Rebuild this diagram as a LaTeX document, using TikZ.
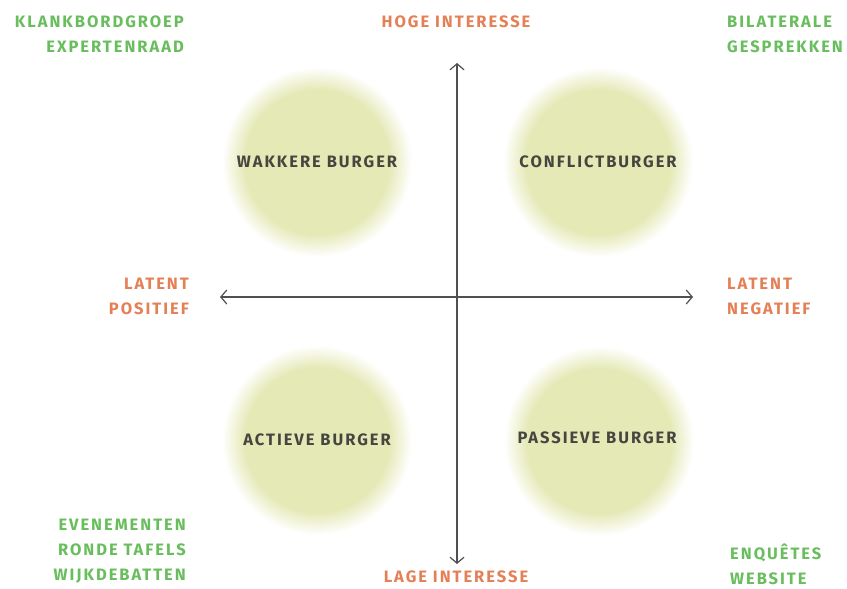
\documentclass[tikz,border=0pt]{standalone}
\usepackage{fontspec}
\setmainfont{Fira Sans}
\newfontfamily\lblfont[LetterSpace=12]{Fira Sans}
\usetikzlibrary{arrows.meta}
\definecolor{grn}{RGB}{104,190,92}
\definecolor{org}{RGB}{228,128,86}
\definecolor{dark}{RGB}{70,70,64}
\definecolor{axis}{RGB}{80,80,80}
\definecolor{blobc}{RGB}{229,233,182}
\pgfdeclareradialshading{blobshade}{\pgfpoint{0bp}{0bp}}{color(0bp)=(blobc); color(19bp)=(blobc); color(25bp)=(white); color(50bp)=(white)}
\tikzset{
  lbl/.style={font=\lblfont\bfseries\fontsize{16.5}{20}\selectfont, inner sep=0pt},
  grnlbl/.style={lbl, text=grn},
  orglbl/.style={lbl, text=org},
  quad/.style={lbl, text=dark},
  blob/.style={circle, minimum size=190pt, inner sep=0pt, shading=blobshade},
  axisline/.style={draw=axis, line width=1.2pt, {Straight Barb[length=6pt,width=14pt,line width=1.2pt]}-{Straight Barb[length=6pt,width=14pt,line width=1.2pt]}}
}
\begin{document}
\begin{tikzpicture}[x=1pt,y=-1pt]
\useasboundingbox (0,0) rectangle (847,589);
\fill[white] (0,0) rectangle (847,589);
% blobs
\node[blob] (b1) at (317,162) {};
\node[blob] (b2) at (598,162) {};
\node[blob] (b3) at (317,440) {};
\node[blob] (b4) at (599,441) {};
\node[quad] (q1) at (317,162) {WAKKERE BURGER};
\node[quad] (q2) at (598,162) {CONFLICTBURGER};
\node[quad] (q3) at (317,440) {ACTIEVE BURGER};
\node[quad] (q4) at (597,438) {PASSIEVE BURGER};
% axes
\coordinate (top) at (457,63);
\coordinate (bot) at (457,564);
\coordinate (lft) at (220,297);
\coordinate (rgt) at (693,297);
\draw[axisline] (bot) -- (top);
\draw[axisline] (lft) -- (rgt);
% axis labels
\node[orglbl] (hoge) at (456,22) {HOGE INTERESSE};
\node[orglbl] (lage) at (456,577) {LAGE INTERESSE};
\node[orglbl, anchor=east, align=right] (pos) at (189,296) {LATENT\\[5pt]POSITIEF};
\node[orglbl, anchor=west, align=left] (neg) at (727,296) {LATENT\\[5pt]NEGATIEF};
% corner labels
\node[grnlbl, anchor=east, align=right] (tl) at (184,34) {KLANKBORDGROEP\\[5pt]EXPERTENRAAD};
\node[grnlbl, anchor=west, align=left] (tr) at (727,34) {BILATERALE\\[5pt]GESPREKKEN};
\node[grnlbl, anchor=east, align=right] (bl) at (186,551) {EVENEMENTEN\\[5pt]RONDE TAFELS\\[5pt]WIJKDEBATTEN};
\node[grnlbl, anchor=west, align=left] (br) at (730,564) {ENQUÊTES\\[5pt]WEBSITE};
\end{tikzpicture}
\end{document}
